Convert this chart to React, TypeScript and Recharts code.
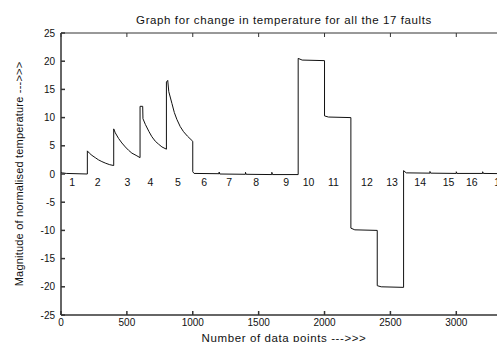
import React from "react";
import { ComposedChart, Line, Scatter, XAxis, YAxis, Label } from "recharts";

// x positions (data point index) and normalised temperature
const sampleIndex = [
  0, 10, 40, 200,
  200, 215, 235, 260, 285, 310, 340, 370, 400,
  400, 412, 437, 462, 488, 513, 538, 570, 600,
  600, 620, 622, 640, 668, 690, 716, 740, 766, 800,
  800, 810, 818, 842, 860, 879, 905, 930, 960, 1000,
  1000, 1010, 1200, 1200, 1205, 1400, 1400, 1405, 1600, 1600, 1605, 1800,
  1800, 1830, 2000,
  2000, 2030, 2200,
  2200, 2230, 2400,
  2400, 2430, 2600,
  2600, 2620, 2800, 2800, 2805, 3000, 3000, 3005, 3200, 3200, 3205, 3400,
];
const temperature = [
  0.3, 0.2, 0.1, 0.0,
  4.1, 3.7, 3.3, 2.9, 2.5, 2.2, 1.9, 1.65, 1.5,
  8.0, 7.3, 6.3, 5.5, 4.8, 4.2, 3.7, 3.3, 2.9,
  12.0, 12.0, 9.8, 8.8, 7.5, 6.6, 5.8, 5.3, 4.8, 4.4,
  16.3, 16.6, 14.6, 12.5, 10.9, 9.7, 8.4, 7.5, 6.7, 5.8,
  0.4, 0.1, 0.05, 0.35, 0.0, -0.05, 0.3, -0.05, -0.1, 0.3, -0.1, -0.1,
  20.5, 20.2, 20.1,
  10.3, 10.1, 10.0,
  -9.6, -9.9, -10.0,
  -19.8, -20.0, -20.1,
  0.6, 0.2, 0.15, 0.45, 0.15, 0.1, 0.4, 0.1, 0.1, 0.4, 0.1, 0.05,
];

// fault number annotations
const faultLabelX = [84, 278, 505, 678, 888, 1087, 1277, 1482, 1709, 1879, 2068, 2322, 2512, 2726, 2941, 3118, 3333];
const faultLabelY = [-1.5, -1.5, -1.5, -1.5, -1.5, -1.5, -1.5, -1.5, -1.5, -1.5, -1.5, -1.5, -1.5, -1.5, -1.5, -1.5, -1.5];
const faultLabels = ["1", "2", "3", "4", "5", "6", "7", "8", "9", "10", "11", "12", "13", "14", "15", "16", "17"];

const xTicks = [0, 500, 1000, 1500, 2000, 2500, 3000];
const yTicks = [-25, -20, -15, -10, -5, 0, 5, 10, 15, 20, 25];

const titleText = "Graph for change in temperature for all the 17 faults";
const xLabelText = "Number of data points --->>>";
const yLabelText = "Magnitude of normalised temperature --->>>";

const lineData = sampleIndex.map((x, i) => ({ x, y: temperature[i] }));
const labelData = faultLabelX.map((x, i) => ({ x, y: faultLabelY[i], label: faultLabels[i] }));

const FONT = "'Liberation Sans', Arial, Helvetica, sans-serif";
const AXIS = "#333";

const tickStyle = { fontSize: 10, fill: "#111", fontFamily: FONT };

const renderFaultLabel = (p: any) => (
  <text
    x={p.cx}
    y={p.cy}
    textAnchor="middle"
    dominantBaseline="central"
    fontSize={10.5}
    fontFamily={FONT}
    fill="#111"
  >
    {p.payload.label}
  </text>
);

const emptyTick = () => <g />;

export default function App() {
  return (
    <div
      style={{
        position: "absolute",
        left: 0,
        top: 0,
        width: 497,
        height: 342,
        overflow: "hidden",
        background: "#fff",
      }}
    >
      <ComposedChart
        width={520}
        height={342}
        margin={{ top: 32, right: 11, bottom: 0, left: 0 }}
      >
        <XAxis
          xAxisId="b"
          dataKey="x"
          type="number"
          domain={[0, 3400]}
          ticks={xTicks}
          allowDataOverflow
          height={27}
          tickSize={-4}
          tickMargin={8}
          tick={tickStyle}
          stroke={AXIS}
          strokeWidth={1.5}
          interval={0}
        >
          <Label
            content={(props: any) => {
              const vb = props.viewBox || { x: 61, width: 448 };
              return (
                <text
                  x={vb.x + vb.width / 2 - 1}
                  y={338}
                  textAnchor="middle"
                  dominantBaseline="central"
                  fontSize={11.5}
                  letterSpacing={0.6}
                  fontFamily={FONT}
                  fill="#111"
                >
                  {xLabelText}
                </text>
              );
            }}
          />
        </XAxis>
        <XAxis
          xAxisId="t"
          orientation="top"
          dataKey="x"
          type="number"
          domain={[0, 3400]}
          ticks={xTicks}
          allowDataOverflow
          height={1}
          tickSize={-4}
          tickMargin={0}
          tick={emptyTick}
          stroke={AXIS}
          strokeWidth={1}
          interval={0}
        />
        <YAxis
          yAxisId="l"
          dataKey="y"
          type="number"
          domain={[-25, 25]}
          ticks={yTicks}
          allowDataOverflow
          width={61}
          tickSize={-4}
          tickMargin={10}
          tick={tickStyle}
          stroke={AXIS}
          strokeWidth={1.5}
          interval={0}
        >
          <Label
            content={(props: any) => {
              const vb = props.viewBox || { y: 33, height: 282 };
              const cy = vb.y + vb.height / 2;
              return (
                <g>
                  <text
                    x={19}
                    y={cy}
                    transform={`rotate(-90 19 ${cy})`}
                    textAnchor="middle"
                    dominantBaseline="central"
                    fontSize={11}
                    letterSpacing={0.2}
                    fontFamily={FONT}
                    fill="#111"
                  >
                    {yLabelText}
                  </text>
                  <text
                    x={284}
                    y={20}
                    textAnchor="middle"
                    dominantBaseline="central"
                    fontSize={11.5}
                    letterSpacing={0.6}
                    fontFamily={FONT}
                    fill="#111"
                  >
                    {titleText}
                  </text>
                </g>
              );
            }}
          />
        </YAxis>
        <Line
          xAxisId="b"
          yAxisId="l"
          data={lineData}
          dataKey="y"
          type="linear"
          stroke="#111"
          strokeWidth={1}
          dot={false}
          activeDot={false}
          isAnimationActive={false}
        />
        <Scatter
          xAxisId="b"
          yAxisId="l"
          data={labelData}
          dataKey="y"
          shape={renderFaultLabel}
          isAnimationActive={false}
        />
      </ComposedChart>
    </div>
  );
}
